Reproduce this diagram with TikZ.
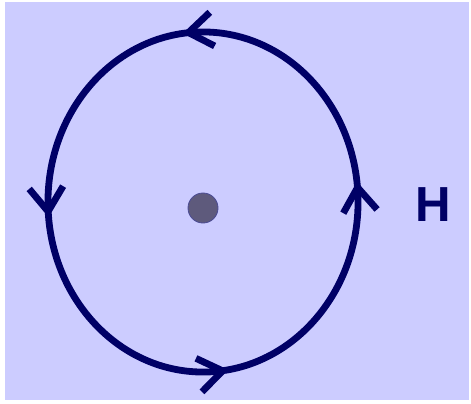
\documentclass[tikz,border=0pt]{standalone}
\usepackage{fontspec}
\setsansfont{Liberation Sans}
\usetikzlibrary{shapes.geometric}
\usetikzlibrary{arrows.meta}
\usetikzlibrary{decorations.markings}

\definecolor{orbitblue}{HTML}{000066}
\definecolor{panel}{HTML}{CCCCFF}
\definecolor{coregrey}{HTML}{5E5A7C}

\tikzset{>={Straight Barb[length=0.6cm,width=0.85cm]}}

\begin{document}
\begin{tikzpicture}[x=0.025cm, y=0.025cm]

    \useasboundingbox (0,0) rectangle (471,403);
    \fill[white] (0,0) rectangle (471,403);
    \fill[panel] (5,3) rectangle (469,401);

    % orbit, running anticlockwise, with four arrows on it
    \coordinate (Orbit_centre) at (203,201);
    \draw[orbitblue, line width=0.17cm,
          decoration={markings,
              mark=at position 0.02 with {\arrow{>}},
              mark=at position 0.27 with {\arrow{>}},
              mark=at position 0.515 with {\arrow{>}},
              mark=at position 0.775 with {\arrow{>}}},
          postaction={decorate}]
        (Orbit_centre) ellipse [x radius=3.875cm, y radius=4.25cm];

    % grey dot in the middle
    \node[circle, minimum size=0.75cm, inner sep=0pt,
          fill=coregrey, draw=orbitblue!70, line width=0.6pt] (Nucleus) at (203,195) {};

    \node[text=orbitblue, font=\sffamily\bfseries\fontsize{35}{40}\selectfont] (Field_label) at (433,198) {H};

\end{tikzpicture}
\end{document}
